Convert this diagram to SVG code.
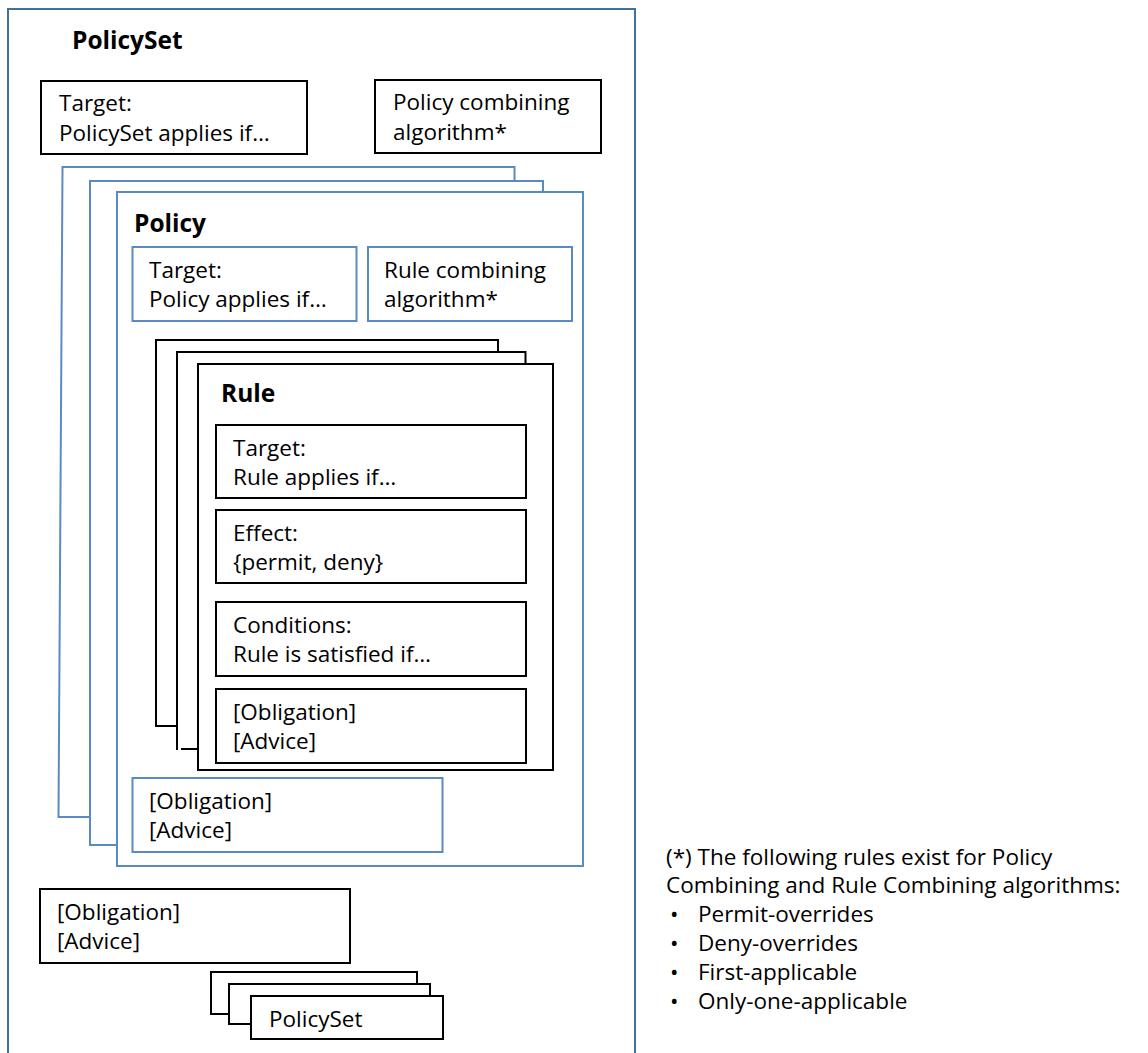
<svg xmlns="http://www.w3.org/2000/svg" width="1148" height="1053" viewBox="0 0 1148 1053">
<style>
  .bg{fill:#ffffff}
  .outer{fill:none;stroke:#41719C;stroke-width:2}
  .blue{fill:#ffffff;stroke:#5A8AC6;stroke-width:2}
  .blueln{fill:none;stroke:#5A8AC6;stroke-width:2}
  .blk{fill:#ffffff;stroke:#000000;stroke-width:2}
  .blkln{fill:none;stroke:#000000;stroke-width:2}
  text{font-family:"Open Sans","Liberation Sans",sans-serif;font-size:22.5px;fill:#000000}
  .title{font-weight:bold;font-size:24.5px}
</style>
<rect class="bg" x="0" y="0" width="1148" height="1053"/>

<g id="policyset">
  <path class="outer" d="M8,1060 V9 H635 V1060"/>
  <text class="title" x="72" y="49">PolicySet</text>
</g>

<g id="policyset-target">
  <rect class="blk" x="41" y="81" width="266" height="73"/>
  <text x="59" y="111">Target:</text>
  <text x="59" y="141">PolicySet applies if…</text>
</g>

<g id="policy-combining">
  <rect class="blk" x="375" y="80" width="226" height="73"/>
  <text x="393" y="110">Policy combining</text>
  <text x="393" y="140">algorithm*</text>
</g>

<g id="policy-stack-back">
  <path class="blueln" d="M90,817 H58.5 L62.5,167 H514.5 V181"/>
  <path class="blueln" d="M117,845 H90 V181 H543 V192"/>
</g>

<g id="policy">
  <rect class="blue" x="117" y="192" width="466" height="674"/>
  <text class="title" x="134" y="232">Policy</text>
</g>

<g id="policy-target">
  <rect class="blue" x="132.5" y="247" width="224" height="74"/>
  <text x="149" y="278">Target:</text>
  <text x="149" y="307">Policy applies if…</text>
</g>

<g id="rule-combining">
  <rect class="blue" x="368" y="247" width="204" height="74"/>
  <text x="384" y="278">Rule combining</text>
  <text x="384" y="307">algorithm*</text>
</g>

<g id="rule-stack-back">
  <path class="blkln" d="M176,726 H156 V340 H498 V352"/>
  <path class="blkln" d="M177,750 V352 H525.5 V364"/>
  <path class="blkln" d="M181,749 H201"/>
</g>

<g id="rule">
  <rect class="blk" x="198" y="364" width="355" height="406"/>
  <text class="title" x="221" y="402">Rule</text>
</g>

<g id="rule-target">
  <rect class="blk" x="216" y="425" width="310" height="73"/>
  <text x="233" y="456">Target:</text>
  <text x="233" y="485">Rule applies if…</text>
</g>

<g id="rule-effect">
  <rect class="blk" x="216" y="510" width="310" height="73"/>
  <text x="233" y="541">Effect:</text>
  <text x="233" y="570">{permit, deny}</text>
</g>

<g id="rule-conditions">
  <rect class="blk" x="216" y="602" width="310" height="74"/>
  <text x="233" y="633">Conditions:</text>
  <text x="233" y="662">Rule is satisfied if…</text>
</g>

<g id="rule-obligation">
  <rect class="blk" x="216" y="689" width="310" height="74"/>
  <text x="233" y="720">[Obligation]</text>
  <text x="233" y="749">[Advice]</text>
</g>

<g id="policy-obligation">
  <rect class="blue" x="132.5" y="778" width="310" height="74"/>
  <text x="149" y="809">[Obligation]</text>
  <text x="149" y="838">[Advice]</text>
</g>

<g id="policyset-obligation">
  <rect class="blk" x="40" y="889" width="310" height="74"/>
  <text x="57" y="920">[Obligation]</text>
  <text x="57" y="949">[Advice]</text>
</g>

<g id="policyset-stack-back">
  <path class="blkln" d="M229,1014 H211 V972 H417 V984"/>
  <path class="blkln" d="M251,1024 H229 V984 H430 V996"/>
</g>

<g id="policyset-child">
  <rect class="blk" x="251" y="996" width="192" height="43"/>
  <text x="269" y="1027">PolicySet</text>
</g>

<g id="connectors"></g>

<g id="footnote">
  <text x="666" y="865">(*) The following rules exist for Policy</text>
  <text x="666" y="893">Combining and Rule Combining algorithms:</text>
  <text y="922"><tspan x="670">•</tspan><tspan x="698">Permit-overrides</tspan></text>
  <text y="951"><tspan x="670">•</tspan><tspan x="698">Deny-overrides</tspan></text>
  <text y="980"><tspan x="670">•</tspan><tspan x="698">First-applicable</tspan></text>
  <text y="1009"><tspan x="670">•</tspan><tspan x="698">Only-one-applicable</tspan></text>
</g>
</svg>
